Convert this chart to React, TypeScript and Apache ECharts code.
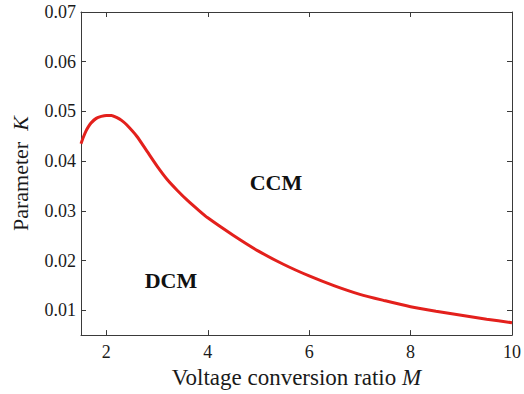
import React, { useEffect, useRef } from "react";
import * as echarts from "echarts";

// Boundary between the conduction modes: critical K versus conversion ratio M
const ratioM = [1.5, 1.55, 1.6, 1.65, 1.7, 1.8, 1.9, 2.0, 2.1, 2.2, 2.3, 2.4, 2.6, 2.8, 3.0, 3.2, 3.4, 3.6, 3.8, 4.0, 4.5, 5.0, 5.5, 6.0, 6.5, 7.0, 7.5, 8.0, 8.5, 9.0, 9.5, 10.0];
const paramK = [0.0435, 0.0449, 0.0461, 0.047, 0.0477, 0.0486, 0.049, 0.0492, 0.0492, 0.0488, 0.0482, 0.0473, 0.045, 0.042, 0.039, 0.0363, 0.0341, 0.0321, 0.0303, 0.0286, 0.0251, 0.0219, 0.0192, 0.0169, 0.0149, 0.0132, 0.0119, 0.0107, 0.0098, 0.009, 0.0082, 0.0075];

const xTicks = [2, 4, 6, 8, 10];
const yTicks = [0.01, 0.02, 0.03, 0.04, 0.05, 0.06, 0.07];

const FONT = "'Liberation Serif', 'DejaVu Serif', serif";
const AXIS_COLOR = "#3a3a3a";
const TEXT_COLOR = "#1a1a1a";

export default function App() {
  const ref = useRef<HTMLDivElement>(null);

  useEffect(() => {
    if (!ref.current) return;
    const chart = echarts.init(ref.current, null, { renderer: "svg" });

    const baseX = {
      type: "value" as const,
      min: 1.5,
      max: 10,
      axisLine: { show: true, onZero: false, lineStyle: { color: AXIS_COLOR, width: 1 } },
      axisTick: { show: true, inside: true, length: 5, customValues: xTicks, lineStyle: { color: AXIS_COLOR } },
      splitLine: { show: false },
    };
    const baseY = {
      type: "value" as const,
      min: 0.005,
      max: 0.07,
      axisLine: { show: true, onZero: false, lineStyle: { color: AXIS_COLOR, width: 1 } },
      axisTick: { show: true, inside: true, length: 5, customValues: yTicks, lineStyle: { color: AXIS_COLOR } },
      splitLine: { show: false },
    };

    chart.setOption({
      animation: false,
      backgroundColor: "#ffffff",
      grid: { left: 81, top: 12, right: 10, bottom: 57, containLabel: false },
      xAxis: [
        {
          ...baseX,
          position: "bottom",
          name: "Voltage conversion ratio {i|M}",
          nameLocation: "middle",
          nameGap: 27,
          nameTextStyle: {
            fontFamily: FONT,
            fontSize: 23,
            color: TEXT_COLOR,
            rich: { i: { fontFamily: FONT, fontSize: 23, fontStyle: "italic", color: TEXT_COLOR } },
          },
          axisLabel: {
            show: true,
            customValues: xTicks,
            margin: 8,
            fontFamily: FONT,
            fontSize: 18,
            color: TEXT_COLOR,
          },
        },
        {
          ...baseX,
          position: "top",
          axisLabel: { show: false },
        },
      ],
      yAxis: [
        {
          ...baseY,
          position: "left",
          name: "Parameter  {i|K}",
          nameLocation: "middle",
          nameGap: 50,
          nameRotate: 90,
          nameTextStyle: {
            fontFamily: FONT,
            fontSize: 22,
            color: TEXT_COLOR,
            rich: { i: { fontFamily: FONT, fontSize: 22, fontStyle: "italic", color: TEXT_COLOR } },
          },
          axisLabel: {
            show: true,
            customValues: yTicks,
            margin: 5,
            fontFamily: FONT,
            fontSize: 18,
            color: TEXT_COLOR,
            formatter: (v: number) => v.toFixed(2),
          },
        },
        {
          ...baseY,
          position: "right",
          axisLabel: { show: false },
        },
      ],
      graphic: [
        {
          type: "text",
          x: 276,
          y: 182,
          style: {
            text: "CCM",
            fontFamily: FONT,
            fontSize: 22,
            fontWeight: "bold",
            fill: "#111111",
            align: "center",
            verticalAlign: "middle",
          },
        },
        {
          type: "text",
          x: 171,
          y: 280,
          style: {
            text: "DCM",
            fontFamily: FONT,
            fontSize: 22,
            fontWeight: "bold",
            fill: "#111111",
            align: "center",
            verticalAlign: "middle",
          },
        },
      ],
      series: [
        {
          type: "line",
          xAxisIndex: 0,
          yAxisIndex: 0,
          data: ratioM.map((m, i) => [m, paramK[i]]),
          smooth: 0.25,
          showSymbol: false,
          symbol: "none",
          lineStyle: { color: "#e3201c", width: 3 },
          clip: true,
        },
      ],
    });

    return () => chart.dispose();
  }, []);

  return (
    <div
      ref={ref}
      style={{ position: "fixed", left: 0, top: 0, width: 524, height: 394, overflow: "hidden" }}
    />
  );
}
